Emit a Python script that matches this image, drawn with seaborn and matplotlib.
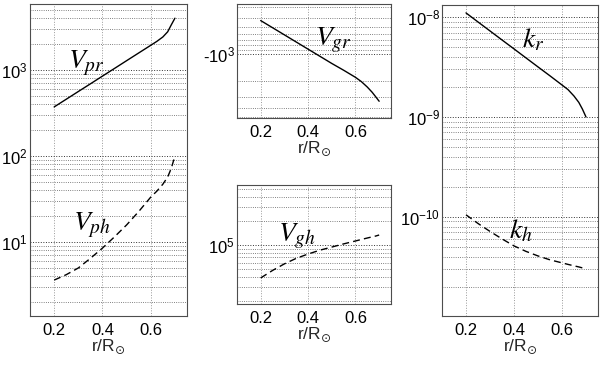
import numpy as np
import pandas as pd
import matplotlib
matplotlib.use('Agg')
import matplotlib.pyplot as plt
import matplotlib.ticker as mticker
import seaborn as sns

# ---- data ----
r = [0.2, 0.25, 0.3, 0.35, 0.4, 0.45, 0.5, 0.55, 0.6, 0.625, 0.65, 0.67, 0.685, 0.7]

v_pr = [372, 457, 562, 690, 849, 1043, 1283, 1577, 1937, 2150, 2420, 2780, 3350, 4000]
v_ph = [3.61, 4.17, 4.99, 6.46, 8.5, 11.5, 15.8, 22.6, 33.3, 39, 47, 57, 72, 100]

v_gr = [-427, -512, -614, -737, -884, -1060, -1272, -1511, -1811, -2020, -2320, -2640, -2960, -3330]
v_gh = [3.87e4, 4.8e4, 5.8e4, 6.8e4, 7.7e4, 8.6e4, 9.4e4, 1.03e5, 1.12e5, 1.17e5, 1.22e5, 1.26e5, 1.29e5, 1.33e5]

k_r = [1.1e-8, 8.93e-9, 7.26e-9, 5.90e-9, 4.80e-9, 3.90e-9, 3.17e-9, 2.58e-9, 2.09e-9,
       1.88e-9, 1.62e-9, 1.40e-9, 1.2e-9, 1.0e-9]
k_h = [1.05e-10, 8.6e-11, 7.16e-11, 6.03e-11, 5.13e-11, 4.52e-11, 4.07e-11, 3.72e-11,
       3.47e-11, 3.35e-11, 3.24e-11, 3.16e-11, 3.09e-11, 3.02e-11]

x_ticks = [0.2, 0.4, 0.6]
x_label = r'r/R$_{\odot}$'

# ---- style ----
sns.set_theme(style='white')
plt.rcParams['font.family'] = ['Liberation Sans', 'DejaVu Sans']
plt.rcParams['font.size'] = 12

fig = plt.figure(figsize=(6, 3.67), dpi=100)

W, H = 600.0, 367.0
def box(x0, y0, x1, y1):
    # pixel box (top-left origin) -> figure fraction rect
    return [x0 / W, 1 - y1 / H, (x1 - x0) / W, (y1 - y0) / H]

ax_l = fig.add_axes(box(30, 4, 187, 316))
ax_mt = fig.add_axes(box(237, 4, 391, 118))
ax_mb = fig.add_axes(box(237, 185, 391, 304))
ax_r = fig.add_axes(box(442, 5, 598, 316))

dash = (0, (5, 3))

def style_axis(ax, ylim):
    ax.set_yscale('log')
    ax.set_xlim(0.1, 0.75)
    ax.set_ylim(*ylim)
    ax.set_xticks(x_ticks)
    ax.set_xticklabels([f'{t:.1f}' for t in x_ticks])
    ax.yaxis.set_major_locator(mticker.LogLocator(base=10, numticks=20))
    ax.yaxis.set_minor_locator(mticker.LogLocator(base=10, subs=np.arange(2, 10), numticks=20))
    ax.yaxis.set_minor_formatter(mticker.NullFormatter())
    ax.grid(True, which='major', axis='y', linestyle=':', color='0.2', linewidth=0.7)
    ax.grid(True, which='minor', axis='y', linestyle=':', color='0.35', linewidth=0.6)
    ax.grid(True, which='major', axis='x', linestyle=':', color='0.6', linewidth=0.7)
    ax.tick_params(which='both', direction='in', length=2.5, width=0.6, colors='0.2',
                   labelsize=12, labelcolor='black')
    ax.tick_params(axis='y', pad=1.5)
    ax.tick_params(axis='x', pad=5)
    for s in ax.spines.values():
        s.set_color('0.3')
        s.set_linewidth(0.8)
    ax.set_xlabel(x_label, fontsize=12.5, labelpad=0)
    ax.set_ylabel('')

# left: phase velocities
sns.lineplot(x=r, y=v_pr, ax=ax_l, color='black', linewidth=1.0)
sns.lineplot(x=r, y=v_ph, ax=ax_l, color='black', linewidth=1.0, linestyle=dash)
style_axis(ax_l, (1.38, 5850))

# middle top: radial group velocity (negative, log of magnitude)
sns.lineplot(x=r, y=[-v for v in v_gr], ax=ax_mt, color='black', linewidth=1.0)
style_axis(ax_mt, (5100, 280))
ax_mt.yaxis.set_major_formatter(
    mticker.FuncFormatter(lambda v, p: '-$\\mathdefault{10^{%d}}$' % round(np.log10(v))))

# middle bottom: horizontal group velocity
sns.lineplot(x=r, y=v_gh, ax=ax_mb, color='black', linewidth=1.0, linestyle=dash)
style_axis(ax_mb, (1.83e4, 5.6e5))

# right: wavenumbers
sns.lineplot(x=r, y=k_r, ax=ax_r, color='black', linewidth=1.0)
sns.lineplot(x=r, y=k_h, ax=ax_r, color='black', linewidth=1.0, linestyle=dash)
style_axis(ax_r, (1.02e-11, 1.32e-8))

# curve labels
labels = [(r'$V_{pr}$', 68, 68), (r'$V_{ph}$', 73, 230), (r'$V_{gr}$', 315, 45),
          (r'$V_{gh}$', 278, 241), (r'$k_{r}$', 522, 47), (r'$k_{h}$', 509, 238)]
for txt, px, py in labels:
    fig.text(px / W, 1 - py / H, txt, fontsize=20, math_fontfamily='stix',
             ha='left', va='baseline', color='black')

fig.savefig('out.png', dpi=100)
